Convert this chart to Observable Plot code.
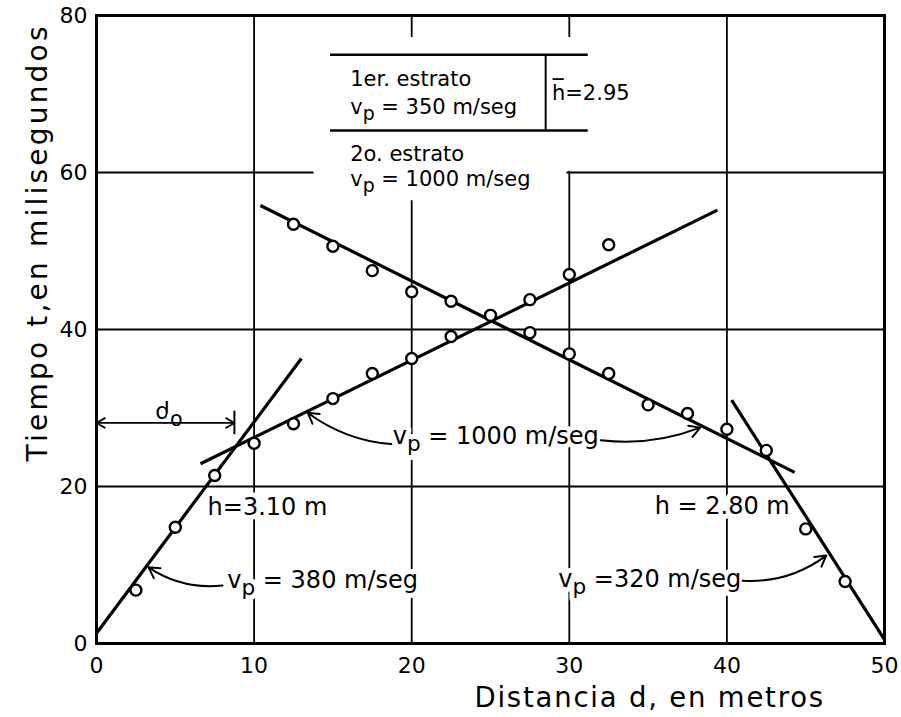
<!DOCTYPE html>
<html><head><meta charset="utf-8">
<script src="https://cdn.jsdelivr.net/npm/d3@7"></script>
<script src="https://cdn.jsdelivr.net/npm/@observablehq/plot@0.6"></script>
<style>
body{margin:0;background:#fff;}
#chart svg{display:block;}
</style>
</head><body><div id="chart"></div>
<script>
// axes
const xTicks = [0, 10, 20, 30, 40, 50];
const yTicks = [0, 20, 40, 60, 80];
const gridX = [10, 20, 30, 40];
const gridY = [20, 40, 60];
const xTitle = "Distancia d, en metros";
const yTitle = "Tiempo t,en milisegundos";

// observed travel times (ms) vs distance (m)
const fwdDist = [2.5, 5, 7.5, 10, 12.5, 15, 17.5, 20, 22.5, 25, 27.5, 30, 32.5];
const fwdTime = [6.8, 14.8, 21.4, 25.5, 28.0, 31.2, 34.4, 36.3, 39.1, 41.8, 43.8, 47.0, 50.8];
const revDist = [12.5, 15, 17.5, 20, 22.5, 25, 27.5, 30, 32.5, 35, 37.5, 40, 42.5, 45, 47.5];
const revTime = [53.4, 50.6, 47.5, 44.8, 43.6, 41.8, 39.6, 36.9, 34.4, 30.4, 29.3, 27.3, 24.6, 14.6, 7.9];

// fitted straight lines (endpoints)
const fitX1 = [0, 6.6, 10.4, 40.3];
const fitT1 = [1.3, 22.9, 55.8, 31.0];
const fitX2 = [13.0, 39.4, 44.3, 50];
const fitT2 = [36.3, 55.2, 21.8, 0.5];

// annotation labels (ₚ / ₒ are rendered as subscripts)
const noteText = ["h=3.10 m", "h = 2.80 m", "vₚ = 380 m/seg", "vₚ = 1000 m/seg", "vₚ =320 m/seg",
                  "1er. estrato", "vₚ = 350 m/seg", "2o. estrato", "vₚ = 1000 m/seg", "h=2.95", "dₒ"];
const noteX = [10.85, 39.7, 8.3, 18.8, 29.3, 16.1, 16.1, 16.1, 16.1, 28.9, 4.6];
const noteY = [17.3, 17.45, 8.0, 26.4, 8.15, 71.9, 68.35, 62.35, 59.2, 70.06, 29.6];
const noteAnchor = ["middle", "middle", "start", "start", "start", "start", "start", "start", "start", "start", "middle"];
const noteSize = [24, 24, 24, 24, 24, 21, 21, 21, 21, 21, 23];
// over-bar of the mean thickness symbol (h̄)
const barX1 = 28.97, barX2 = 29.68, barY = 71.9;

// curved leader arrows (from label to line)
const leadX1 = [8.0, 18.7, 32.0, 41.0];
const leadY1 = [7.4, 25.4, 25.9, 8.0];
const leadX2 = [3.3, 13.4, 38.3, 46.3];
const leadY2 = [9.7, 29.4, 27.5, 11.2];
const leadBend = [20, 16, -14, -20];

// strata sketch
const strataTop = 75, strataBottom = 65.35, strataLeft = 14.85, strataRight = 31.2, strataH = 28.5;
// blank (unruled) region behind the strata sketch
const blankX1 = [13.8, 13.8];
const blankX2 = [30.2, 29.85];
const blankY1 = [60.15, 56.4];
const blankY2 = [77.2, 60.15];

// d0 dimension
const d0Value = 8.75, d0Level = 28.1;

const points = fwdDist.map((d, i) => ({d, t: fwdTime[i]}))
  .concat(revDist.map((d, i) => ({d, t: revTime[i]})));
const fits = fitX1.map((x, i) => ({x1: x, y1: fitT1[i], x2: fitX2[i], y2: fitT2[i]}));
const notes = noteText.map((text, i) => ({text, x: noteX[i], y: noteY[i], anchor: noteAnchor[i], size: noteSize[i]}));
const blanks = blankX1.map((x1, i) => ({x1, x2: blankX2[i], y1: blankY1[i], y2: blankY2[i]}));

const noteMarks = ["middle", "start"].flatMap(anchor => [21, 23, 24].map(size => {
  const sub = notes.filter(n => n.anchor === anchor && n.size === size);
  return sub.length ? Plot.text(sub, {x: "x", y: "y", text: "text", textAnchor: anchor, fontSize: size,
    fill: "black", stroke: "white", strokeWidth: 10, paintOrder: "stroke", strokeLinejoin: "round"}) : null;
})).filter(Boolean);

const leaderMarks = leadX1.map((x1, i) => Plot.arrow([{x1, y1: leadY1[i], x2: leadX2[i], y2: leadY2[i]}],
  {x1: "x1", y1: "y1", x2: "x2", y2: "y2", bend: leadBend[i], headLength: 9, strokeWidth: 2, stroke: "black"}));

const chart = Plot.plot({
  width: 901, height: 717,
  marginLeft: 96, marginRight: 17, marginTop: 15, marginBottom: 74,
  style: {fontFamily: "DejaVu Sans", fontSize: "22px", color: "black", background: "white", overflow: "visible"},
  x: {domain: [0, 50], ticks: xTicks, tickSize: 0, tickPadding: 14, label: null, tickFormat: d => d},
  y: {domain: [0, 80], ticks: yTicks, tickSize: 0, tickPadding: 9, label: null, tickFormat: d => d},
  marks: [
    Plot.ruleX(gridX, {strokeWidth: 1.8, stroke: "black"}),
    Plot.ruleY(gridY, {strokeWidth: 1.8, stroke: "black"}),
    Plot.rect(blanks, {x1: "x1", x2: "x2", y1: "y1", y2: "y2", fill: "white"}),
    Plot.ruleY([strataTop, strataBottom], {x1: strataLeft, x2: strataRight, strokeWidth: 2.5, stroke: "black"}),
    Plot.ruleX([strataH], {y1: strataBottom, y2: strataTop, strokeWidth: 2, stroke: "black"}),
    ...noteMarks,
    Plot.ruleY([barY], {x1: barX1, x2: barX2, strokeWidth: 1.8, stroke: "black"}),
    ...leaderMarks,
    Plot.arrow([{x1: d0Value / 2, x2: 0}, {x1: d0Value / 2, x2: d0Value}],
      {x1: "x1", x2: "x2", y1: d0Level, y2: d0Level, headLength: 8, strokeWidth: 1.8, stroke: "black"}),
    Plot.ruleX([d0Value], {y1: d0Level - 1.5, y2: d0Level + 1.5, strokeWidth: 2, stroke: "black"}),
    Plot.frame({strokeWidth: 3, stroke: "black"}),
    Plot.link(fits, {x1: "x1", y1: "y1", x2: "x2", y2: "y2", strokeWidth: 3.2, stroke: "black"}),
    Plot.dot(points, {x: "d", y: "t", r: 5.5, fill: "white", stroke: "black", strokeWidth: 2.4}),
    Plot.text([xTitle], {x: 35.1, y: -7.0, fontSize: 27.5, fill: "black"}),
    Plot.text([yTitle], {x: -3.68, y: 51.1, rotate: -90, fontSize: 28, fill: "black"})
  ]
});

// typographic touch-up: subscripts and letter spacing (text stays real text)
const subMap = {"ₚ": "p", "ₒ": "o"};
d3.select(chart).selectAll("text").each(function () {
  const t = this.textContent;
  if (t === xTitle) { this.style.letterSpacing = "1.8px"; return; }
  if (t === yTitle) { this.style.letterSpacing = "3.2px"; return; }
  if (!/[ₚₒ]/.test(t)) return;
  const el = d3.select(this);
  el.text(null);
  const parts = t.split(/([ₚₒ])/).filter(s => s.length);
  for (const p of parts) {
    if (subMap[p]) {
      el.append("tspan").attr("baseline-shift", "-0.32em").attr("font-size", "0.9em").text(subMap[p]);
    } else {
      el.append("tspan").text(p);
    }
  }
});
document.getElementById("chart").appendChild(chart);
</script>
</body></html>
